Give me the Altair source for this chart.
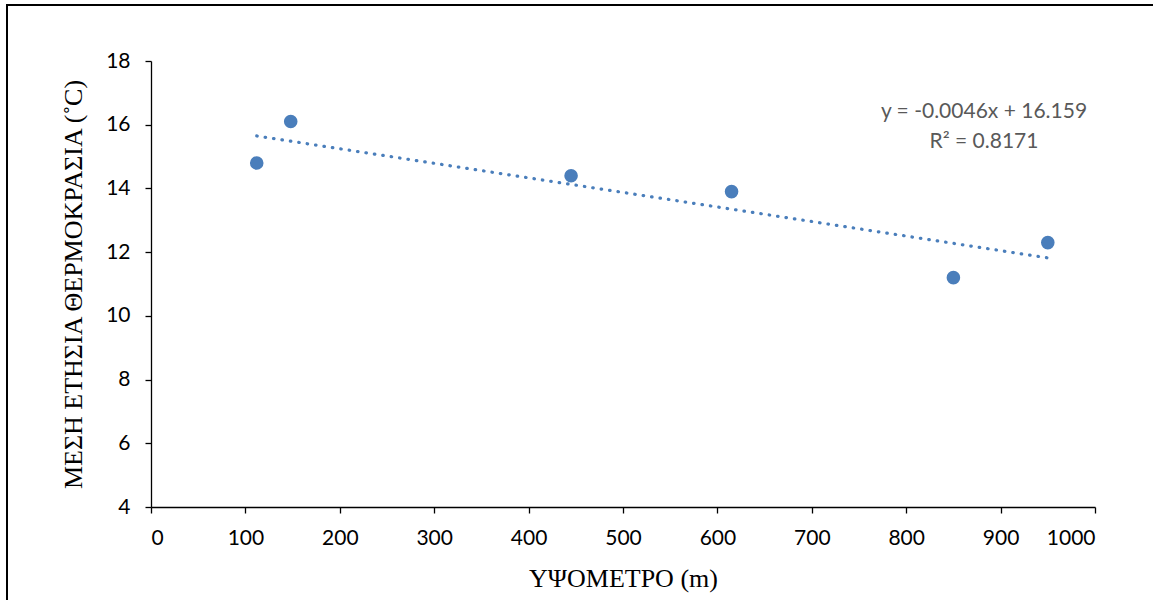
import altair as alt
import pandas as pd

altitude = [112, 148, 445, 615, 850, 950]
temperature = [14.8, 16.1, 14.4, 13.9, 11.2, 12.3]
x_ticks = [0, 100, 200, 300, 400, 500, 600, 700, 800, 900, 1000]
y_ticks = [4, 6, 8, 10, 12, 14, 16, 18]
eq_lines = ["y = -0.0046x + 16.159", "R² = 0.8171"]

df = pd.DataFrame({"x": altitude, "y": temperature})
BLUE = "#4A7EBB"
TICK_FONT = "Lato"
TITLE_FONT = "Liberation Serif"

xenc = alt.X("x:Q", scale=alt.Scale(domain=[0, 1000], nice=False),
             axis=alt.Axis(values=x_ticks, format="d", title="ΥΨΟΜΕΤΡΟ (m)", grid=False,
                           domainColor="black", domainWidth=1.3, tickColor="black",
                           tickWidth=1.3, tickSize=6, labelFont=TICK_FONT, labelFontSize=21,
                           labelColor="black", labelPadding=14, titleFont=TITLE_FONT,
                           titleFontSize=26, titleFontWeight="normal", titleColor="black",
                           titleY=71, titleBaseline="middle"))
yenc = alt.Y("y:Q", scale=alt.Scale(domain=[4, 18], nice=False, zero=False),
             axis=alt.Axis(values=y_ticks, format="d", title="ΜΕΣΗ ΕΤΗΣΙΑ ΘΕΡΜΟΚΡΑΣΙΑ (˚C)", grid=False,
                           domainColor="black", domainWidth=1.3, tickColor="black",
                           tickWidth=1.3, tickSize=6, labelFont=TICK_FONT, labelFontSize=21,
                           labelColor="black", labelPadding=15, titleFont=TITLE_FONT,
                           titleFontSize=26, titleFontWeight="normal", titleColor="black",
                           titleX=-78, titleBaseline="middle"))

base = alt.Chart(df)

points = base.mark_circle(size=185, color=BLUE, opacity=1).encode(x=xenc, y=yenc)

trend = base.transform_regression("x", "y", method="linear").mark_line(
    color=BLUE, strokeWidth=3.2, strokeDash=[0.5, 8], strokeCap="round"
).encode(x="x:Q", y="y:Q")

def eq_text(txt, ypix):
    return alt.Chart(pd.DataFrame({"t": [txt]})).mark_text(
        font=TICK_FONT, fontSize=21, color="#595959", align="center", baseline="middle"
    ).encode(text="t:N", x=alt.value(833), y=alt.value(ypix))

eq1 = eq_text(eq_lines[0], 51)
eq2 = eq_text(eq_lines[1], 81)

border = alt.Chart(pd.DataFrame({"a": [0]})).mark_rect(
    fill=None, stroke="black", strokeWidth=2
).encode(x=alt.value(-144), x2=alt.value(1010), y=alt.value(-56), y2=alt.value(560))

chart = alt.layer(border, trend, points, eq1, eq2).properties(
    width=944, height=446,
    autosize=alt.AutoSizeParams(type="none"),
    padding={"left": 151, "top": 61, "right": 58, "bottom": 93},
    background="white",
).configure_view(stroke=None)

chart.save("out.html", embed_options={"renderer": "svg", "actions": False})
